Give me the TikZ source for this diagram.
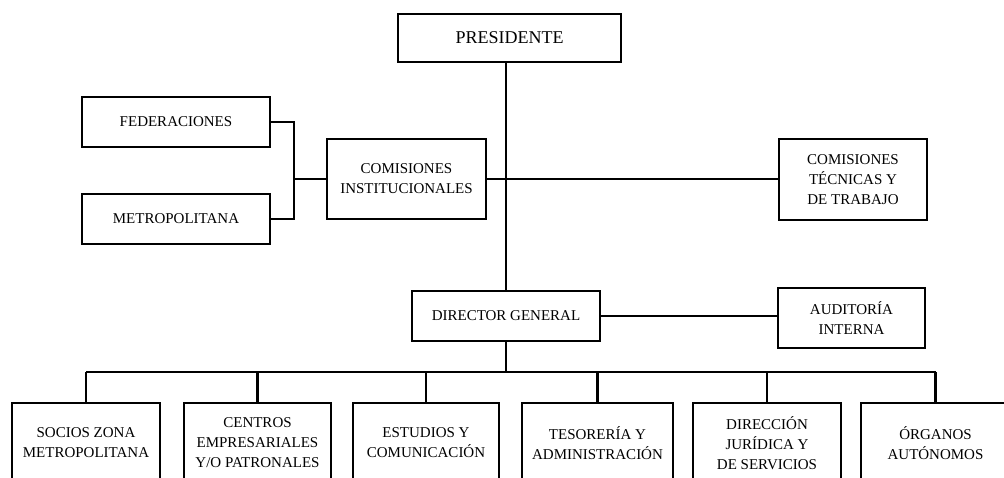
\documentclass[tikz,border=0pt]{standalone}
\usepackage{fontspec}
\setmainfont{Liberation Serif}
\begin{document}
\begin{tikzpicture}[x=1pt,y=-1pt,
  orgbox/.style={draw=black,line width=2.6pt,fill=white,align=center,inner sep=2pt,
    font=\fontsize{15}{20}\selectfont},
  link/.style={draw=black,line width=2.4pt}]
\useasboundingbox (0,0) rectangle (1004,478);
\clip (0,0) rectangle (1004,478);
\fill[white] (0,0) rectangle (1004,478);

\node[orgbox,minimum width=223pt,minimum height=48pt,font=\fontsize{18}{22}\selectfont] (pres) at (509.5,38) {PRESIDENTE};
\node[orgbox,minimum width=188pt,minimum height=50pt] (fed) at (176,122) {FEDERACIONES};
\node[orgbox,minimum width=188pt,minimum height=50pt] (metro) at (176,219) {METROPOLITANA};
\node[orgbox,minimum width=159pt,minimum height=80pt] (comi) at (406.5,179) {COMISIONES\\INSTITUCIONALES};
\node[orgbox,minimum width=148pt,minimum height=81pt] (tec) at (853,179.5) {COMISIONES\\TÉCNICAS Y\\DE TRABAJO};
\node[orgbox,minimum width=188pt,minimum height=50pt] (dg) at (506,316) {DIRECTOR GENERAL};
\node[orgbox,minimum width=147pt,minimum height=60pt] (aud) at (851.5,318) {AUDITORÍA\\INTERNA};

\node[orgbox,minimum width=148pt,minimum height=80pt] (b1) at (86,443) {SOCIOS ZONA\\METROPOLITANA};
\node[orgbox,minimum width=147pt,minimum height=80pt] (b2) at (257.5,443) {CENTROS\\EMPRESARIALES\\Y/O PATRONALES};
\node[orgbox,minimum width=146pt,minimum height=80pt] (b3) at (426,443) {ESTUDIOS Y\\COMUNICACIÓN};
\node[orgbox,minimum width=151pt,minimum height=80pt] (b4) at (597.5,443) {TESORERÍA Y\\ADMINISTRACIÓN};
\node[orgbox,minimum width=148pt,minimum height=80pt] (b5) at (767,443) {DIRECCIÓN\\JURÍDICA Y\\DE SERVICIOS};
\node[orgbox,minimum width=149pt,minimum height=80pt] (b6) at (935.5,443) {ÓRGANOS\\AUTÓNOMOS};

\coordinate (j) at (294,179);
\coordinate (busL) at (86,372);
\coordinate (busR) at (935.5,372);

\draw[link] (dg.north |- pres.south) -- (dg.north);
\draw[link] (fed.east) -| (j) |- (metro.east);
\draw[link] (j) -- (comi.west);
\draw[link] (comi.east) -- (comi.east -| tec.west);
\draw[link] (dg.east) -- (dg.east -| aud.west);
\draw[link] (dg.south) -- (dg.south |- busL);
\draw[link] (busL) -- (busR);
\foreach \b in {b1,b2,b3,b4,b5,b6} {
  \draw[link] (\b.north |- busL) -- (\b.north);
}
\end{tikzpicture}
\end{document}
